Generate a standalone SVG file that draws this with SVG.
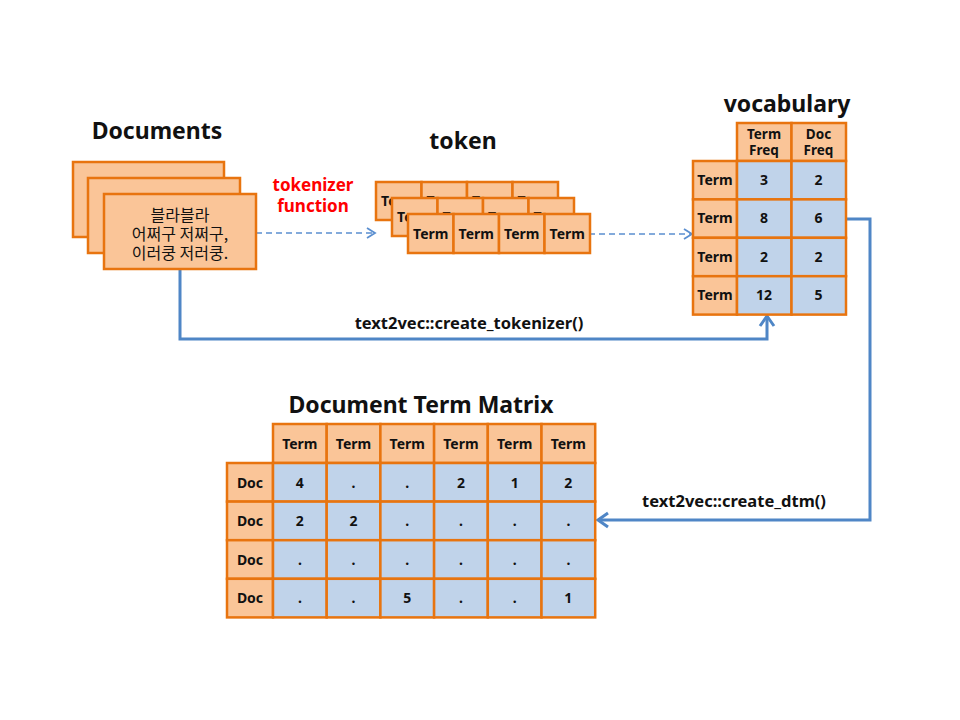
<svg xmlns="http://www.w3.org/2000/svg" width="960" height="720" viewBox="0 0 960 720">
<style>
.o{fill:#fac598;stroke:#e8740f;stroke-width:2.5}
.b{fill:#c0d3ea;stroke:#e8740f;stroke-width:2.5}
text{font-family:"Noto Sans","Noto Sans CJK KR",sans-serif;fill:#111;text-anchor:middle}
.t{font-size:14px;font-weight:bold}
.hd{font-size:13.5px;font-weight:bold}
.h{font-size:23px;font-weight:bold}
.k{font-size:16px;font-family:"Noto Sans CJK KR","Noto Sans",sans-serif}
.lbl{font-size:16.5px;font-weight:bold}
.red{font-size:17px;font-weight:bold;fill:#ff0000}
.dash{fill:none;stroke:#5b8fd0;stroke-width:1.6;stroke-dasharray:6 4}
.solid{fill:none;stroke:#4f86c6;stroke-width:3}
</style>
<defs>
<marker id="ad" markerUnits="userSpaceOnUse" markerWidth="14" markerHeight="14" refX="12" refY="7" orient="auto">
<path d="M4,2 L12,7 L4,12" fill="none" stroke="#5b8fd0" stroke-width="1.8"/>
</marker>
<marker id="as" markerUnits="userSpaceOnUse" markerWidth="18" markerHeight="18" refX="15" refY="9" orient="auto">
<path d="M5,2 L15,9 L5,16" fill="none" stroke="#4f86c6" stroke-width="3"/>
</marker>
</defs>

<g id="connectors">
<path class="dash" d="M256,233 H375" marker-end="url(#ad)"/>
<path class="dash" d="M589,234 H692" marker-end="url(#ad)"/>
<path class="solid" d="M180,269 V339 H767 V316" marker-end="url(#as)"/>
<path class="solid" d="M846,219 H870 V520 H598" marker-end="url(#as)"/>
<text class="lbl" x="469" y="329">text2vec::create_tokenizer()</text>
<text class="lbl" x="734" y="507">text2vec::create_dtm()</text>
<text class="red" x="313" y="191">tokenizer</text>
<text class="red" x="313" y="212">function</text>
</g>

<g id="documents">
<text class="h" x="157" y="139">Documents</text>
<rect class="o" x="73" y="162" width="151" height="75"/>
<rect class="o" x="88" y="178" width="152" height="75"/>
<rect class="o" x="104" y="194" width="152" height="75"/>
<text class="k" x="180" y="221">블라블라</text>
<text class="k" x="180" y="240">어쩌구 저쩌구,</text>
<text class="k" x="180" y="259">이러쿵 저러쿵.</text>
</g>

<g id="token">
<text class="h" x="463" y="149">token</text>
<g>
<rect class="o" x="376" y="182" width="45.5" height="38"/><text class="t" x="398.75" y="206">Term</text>
<rect class="o" x="421.5" y="182" width="45.5" height="38"/><text class="t" x="444.25" y="206">Term</text>
<rect class="o" x="467" y="182" width="45.5" height="38"/><text class="t" x="489.75" y="206">Term</text>
<rect class="o" x="512.5" y="182" width="45.5" height="38"/><text class="t" x="535.25" y="206">Term</text>
</g>
<g>
<rect class="o" x="392" y="198" width="45.5" height="38"/><text class="t" x="414.75" y="222">Term</text>
<rect class="o" x="437.5" y="198" width="45.5" height="38"/><text class="t" x="460.25" y="222">Term</text>
<rect class="o" x="483" y="198" width="45.5" height="38"/><text class="t" x="505.75" y="222">Term</text>
<rect class="o" x="528.5" y="198" width="45.5" height="38"/><text class="t" x="551.25" y="222">Term</text>
</g>
<g>
<rect class="o" x="408" y="214" width="45.5" height="39"/><text class="t" x="430.75" y="238.5">Term</text>
<rect class="o" x="453.5" y="214" width="45.5" height="39"/><text class="t" x="476.25" y="238.5">Term</text>
<rect class="o" x="499" y="214" width="45.5" height="39"/><text class="t" x="521.75" y="238.5">Term</text>
<rect class="o" x="544.5" y="214" width="45.5" height="39"/><text class="t" x="567.25" y="238.5">Term</text>
</g>
</g>

<g id="vocabulary">
<text class="h" x="787" y="112">vocabulary</text>
<rect class="o" x="737" y="123" width="54.5" height="38"/>
<rect class="o" x="791.5" y="123" width="54.5" height="38"/>
<text class="hd" x="764" y="139">Term</text><text class="hd" x="764" y="155">Freq</text>
<text class="hd" x="818.5" y="139">Doc</text><text class="hd" x="818.5" y="155">Freq</text>
<rect class="o" x="693" y="161" width="44" height="38.4"/>
<rect class="o" x="693" y="199.4" width="44" height="38.4"/>
<rect class="o" x="693" y="237.8" width="44" height="38.4"/>
<rect class="o" x="693" y="276.2" width="44" height="38.4"/>
<rect class="b" x="737" y="161" width="54.5" height="38.4"/>
<rect class="b" x="791.5" y="161" width="54.5" height="38.4"/>
<rect class="b" x="737" y="199.4" width="54.5" height="38.4"/>
<rect class="b" x="791.5" y="199.4" width="54.5" height="38.4"/>
<rect class="b" x="737" y="237.8" width="54.5" height="38.4"/>
<rect class="b" x="791.5" y="237.8" width="54.5" height="38.4"/>
<rect class="b" x="737" y="276.2" width="54.5" height="38.4"/>
<rect class="b" x="791.5" y="276.2" width="54.5" height="38.4"/>
<text class="t" x="715" y="185">Term</text><text class="t" x="764" y="185">3</text><text class="t" x="818.5" y="185">2</text>
<text class="t" x="715" y="223.4">Term</text><text class="t" x="764" y="223.4">8</text><text class="t" x="818.5" y="223.4">6</text>
<text class="t" x="715" y="261.8">Term</text><text class="t" x="764" y="261.8">2</text><text class="t" x="818.5" y="261.8">2</text>
<text class="t" x="715" y="300.2">Term</text><text class="t" x="764" y="300.2">12</text><text class="t" x="818.5" y="300.2">5</text>
</g>

<g id="dtm">
<text class="h" x="421" y="413">Document Term Matrix</text>
<g>
<rect class="o" x="273" y="424" width="53.7" height="39"/>
<rect class="o" x="326.7" y="424" width="53.7" height="39"/>
<rect class="o" x="380.4" y="424" width="53.7" height="39"/>
<rect class="o" x="434.1" y="424" width="53.7" height="39"/>
<rect class="o" x="487.8" y="424" width="53.7" height="39"/>
<rect class="o" x="541.5" y="424" width="53.7" height="39"/>
<text class="t" x="299.85" y="448.5">Term</text><text class="t" x="353.55" y="448.5">Term</text><text class="t" x="407.25" y="448.5">Term</text><text class="t" x="460.95" y="448.5">Term</text><text class="t" x="514.65" y="448.5">Term</text><text class="t" x="568.35" y="448.5">Term</text>
</g>
<g>
<rect class="o" x="227" y="463" width="46" height="38.6"/>
<rect class="o" x="227" y="501.6" width="46" height="38.6"/>
<rect class="o" x="227" y="540.2" width="46" height="38.6"/>
<rect class="o" x="227" y="578.8" width="46" height="38.6"/>
<text class="t" x="250" y="487.5">Doc</text><text class="t" x="250" y="526.1">Doc</text><text class="t" x="250" y="564.7">Doc</text><text class="t" x="250" y="603.3">Doc</text>
</g>
<g>
<rect class="b" x="273" y="463" width="53.7" height="38.6"/><rect class="b" x="326.7" y="463" width="53.7" height="38.6"/><rect class="b" x="380.4" y="463" width="53.7" height="38.6"/><rect class="b" x="434.1" y="463" width="53.7" height="38.6"/><rect class="b" x="487.8" y="463" width="53.7" height="38.6"/><rect class="b" x="541.5" y="463" width="53.7" height="38.6"/>
<rect class="b" x="273" y="501.6" width="53.7" height="38.6"/><rect class="b" x="326.7" y="501.6" width="53.7" height="38.6"/><rect class="b" x="380.4" y="501.6" width="53.7" height="38.6"/><rect class="b" x="434.1" y="501.6" width="53.7" height="38.6"/><rect class="b" x="487.8" y="501.6" width="53.7" height="38.6"/><rect class="b" x="541.5" y="501.6" width="53.7" height="38.6"/>
<rect class="b" x="273" y="540.2" width="53.7" height="38.6"/><rect class="b" x="326.7" y="540.2" width="53.7" height="38.6"/><rect class="b" x="380.4" y="540.2" width="53.7" height="38.6"/><rect class="b" x="434.1" y="540.2" width="53.7" height="38.6"/><rect class="b" x="487.8" y="540.2" width="53.7" height="38.6"/><rect class="b" x="541.5" y="540.2" width="53.7" height="38.6"/>
<rect class="b" x="273" y="578.8" width="53.7" height="38.6"/><rect class="b" x="326.7" y="578.8" width="53.7" height="38.6"/><rect class="b" x="380.4" y="578.8" width="53.7" height="38.6"/><rect class="b" x="434.1" y="578.8" width="53.7" height="38.6"/><rect class="b" x="487.8" y="578.8" width="53.7" height="38.6"/><rect class="b" x="541.5" y="578.8" width="53.7" height="38.6"/>
</g>
<g>
<text class="t" x="299.85" y="487.5">4</text><text class="t" x="353.55" y="487.5">.</text><text class="t" x="407.25" y="487.5">.</text><text class="t" x="460.95" y="487.5">2</text><text class="t" x="514.65" y="487.5">1</text><text class="t" x="568.35" y="487.5">2</text>
<text class="t" x="299.85" y="526.1">2</text><text class="t" x="353.55" y="526.1">2</text><text class="t" x="407.25" y="526.1">.</text><text class="t" x="460.95" y="526.1">.</text><text class="t" x="514.65" y="526.1">.</text><text class="t" x="568.35" y="526.1">.</text>
<text class="t" x="299.85" y="564.7">.</text><text class="t" x="353.55" y="564.7">.</text><text class="t" x="407.25" y="564.7">.</text><text class="t" x="460.95" y="564.7">.</text><text class="t" x="514.65" y="564.7">.</text><text class="t" x="568.35" y="564.7">.</text>
<text class="t" x="299.85" y="603.3">.</text><text class="t" x="353.55" y="603.3">.</text><text class="t" x="407.25" y="603.3">5</text><text class="t" x="460.95" y="603.3">.</text><text class="t" x="514.65" y="603.3">.</text><text class="t" x="568.35" y="603.3">1</text>
</g>
</g>
</svg>
